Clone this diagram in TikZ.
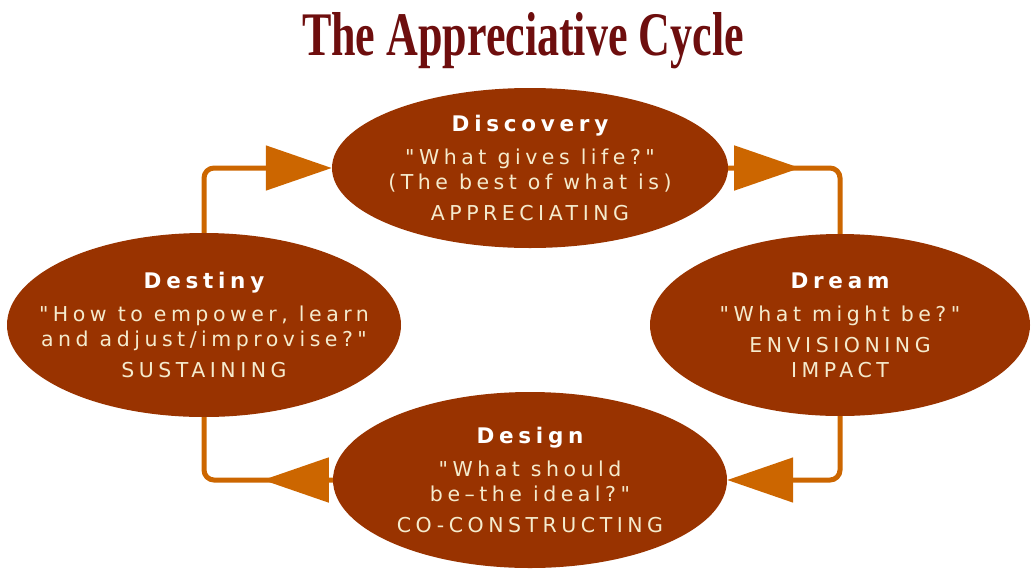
\documentclass[tikz,border=0pt]{standalone}
\usepackage{fontspec}
\setmainfont{Liberation Serif}
\newfontfamily\cycfont[LetterSpace=22]{DejaVu Sans}
\usepackage{graphicx}
\usepackage{tikz}
\usetikzlibrary{arrows.meta,decorations.markings,positioning,shapes.geometric}
\definecolor{rust}{RGB}{153,51,0}
\definecolor{ochre}{RGB}{204,102,0}
\definecolor{maroon}{RGB}{110,14,14}
\definecolor{cream}{RGB}{245,235,205}
\tikzset{>={Triangle[length=66pt,width=44pt]}}
\tikzset{phase/.style={ellipse, fill=rust, inner sep=0pt},
         phasetext/.style={text=cream, align=center, font=\cycfont\fontsize{20.5}{25}\selectfont},
         loop/.style={draw=ochre, line width=5pt, rounded corners=10pt},
         midarrow/.style={decoration={markings, mark=at position #1 with {\arrow{>}}}, postaction={decorate}}}
\newcommand{\phead}[1]{{\color{white}\bfseries\fontsize{21.5}{27}\selectfont #1}}

\begin{document}
\begin{tikzpicture}[x=1pt,y=-1pt]
            \useasboundingbox (0,0) rectangle (1032,571);
            \node [text=maroon, anchor=base, font=\bfseries\fontsize{62}{62}\selectfont] (title) at (523,55) {\scalebox{0.71}[1]{The Appreciative Cycle}};
            \node [phase, minimum width=396pt, minimum height=160pt,
                   label={[phasetext]center:{\phead{Discovery}\\[8pt]"What gives life?"\\(The best of what is)\\[6pt]APPRECIATING}}] (disc) at (530,168) {};
            \node [phase, minimum width=380pt, minimum height=182pt,
                   label={[phasetext]center:{\phead{Dream}\\[8pt]"What might be?"\\[6pt]ENVISIONING\\IMPACT}}] (dream) at (840,325) {};
            \node [phase, minimum width=394pt, minimum height=176pt,
                   label={[phasetext]center:{\phead{Design}\\[8pt]"What should\\be–the ideal?"\\[6pt]CO-CONSTRUCTING}}] (design) at (530,480) {};
            \node [phase, minimum width=394pt, minimum height=184pt,
                   label={[phasetext]center:{\phead{Destiny}\\[8pt]"How to empower, learn\\and adjust/improvise?"\\[6pt]SUSTAINING}}] (dest) at (204,325) {};
            \draw[loop, ->] (dest.north) |- (disc.west);
            \draw[loop, midarrow=72pt] (disc.east) -| (dream.north);
            \draw[loop, ->] (dream.south) |- (design.east);
            \draw[loop, midarrow=70pt] (design.west) -| (dest.south);
          \end{tikzpicture}
\end{document}
